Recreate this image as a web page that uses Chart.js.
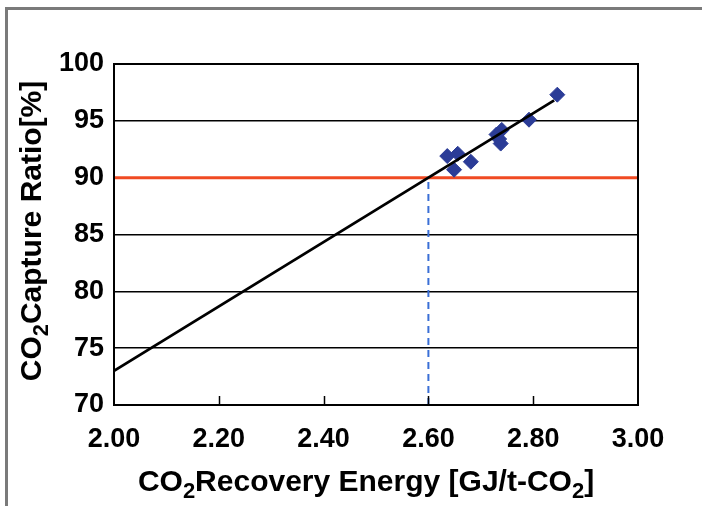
<!DOCTYPE html>
<html lang="en">
<head>
    <meta charset="UTF-8">
    <title>CO2 Capture Ratio vs Recovery Energy</title>
    <script src="https://cdn.jsdelivr.net/npm/chart.js"></script>
    <style>
        body {
            margin: 0;
            padding: 0;
            background-color: #ffffff;
        }

        #wrap {
            position: relative;
            width: 702px;
            height: 506px;
            overflow: hidden;
        }

        /* grey frame on top and left, cut off like in the scan */
        #frame {
            position: absolute;
            left: 5px;
            top: 7px;
            width: 720px;
            height: 520px;
            border-top: 3px solid #7a7a7a;
            border-left: 3px solid #7a7a7a;
        }

        canvas {
            position: absolute;
            left: 0;
            top: 0;
        }
    </style>
</head>
<body>
    <div id="wrap">
        <div id="frame"></div>
        <canvas id="captureChart"></canvas>
    </div>

    <script>
        // Measured points (recovery energy GJ/t-CO2, capture ratio %)
        const energyValues = [2.636, 2.656, 2.649, 2.681, 2.730, 2.740, 2.738, 2.735, 2.792, 2.846];
        const captureValues = [91.9, 92.1, 90.7, 91.4, 93.8, 94.2, 93.0, 93.4, 95.1, 97.3];

        // Fitted line end points
        const fitEnergy = [2.00, 2.84];
        const fitCapture = [73.0, 96.8];

        // Target ratio and the energy it needs
        const targetCapture = 90;
        const targetEnergy = 2.60;

        // Axis ranges / tick labels
        const xTicks = [2.00, 2.20, 2.40, 2.60, 2.80, 3.00];
        const yTicks = [70, 75, 80, 85, 90, 95, 100];

        // Axis titles, split so the "2" can be set as a subscript
        const xTitle = [['CO', false], ['2', true], ['Recovery Energy [GJ/t-CO', false], ['2', true], [']', false]];
        const yTitle = [['CO', false], ['2', true], ['Capture Ratio[%]', false]];

        const points = energyValues.map((e, i) => ({ x: e, y: captureValues[i] }));
        const fitLine = fitEnergy.map((e, i) => ({ x: e, y: fitCapture[i] }));

        const fontFamily = 'Liberation Sans, Arial, sans-serif';
        const tickFont = { family: fontFamily, size: 27, weight: 'bold' };
        const titleFont = 'bold 30px ' + fontFamily;
        const subFont = 'bold 22px ' + fontFamily;

        function titleWidth(ctx, parts) {
            let w = 0;
            parts.forEach(([t, sub]) => {
                ctx.font = sub ? subFont : titleFont;
                w += ctx.measureText(t).width;
            });
            return w;
        }

        function drawTitle(ctx, parts) {
            let x = 0;
            parts.forEach(([t, sub]) => {
                ctx.font = sub ? subFont : titleFont;
                ctx.fillText(t, x, sub ? 7 : 0);
                x += ctx.measureText(t).width;
            });
        }

        // Plot box, small inward ticks on the x axis, and the axis titles
        const frameBox = {
            id: 'frameBox',
            afterDatasetsDraw(chart) {
                const { ctx, chartArea: a, scales } = chart;
                ctx.save();
                ctx.strokeStyle = '#000';
                ctx.lineWidth = 2;
                ctx.strokeRect(a.left, a.top, a.right - a.left, a.bottom - a.top);
                ctx.lineWidth = 1.5;
                xTicks.slice(1, -1).forEach(v => {
                    const px = Math.round(scales.x.getPixelForValue(v)) + 0.5;
                    ctx.beginPath();
                    ctx.moveTo(px, a.bottom);
                    ctx.lineTo(px, a.bottom - 9);
                    ctx.stroke();
                });

                ctx.fillStyle = '#000';
                ctx.textBaseline = 'alphabetic';
                ctx.textAlign = 'left';

                // x title
                const xw = titleWidth(ctx, xTitle);
                ctx.save();
                ctx.translate((a.left + a.right) / 2 - 10 - xw / 2, 491);
                drawTitle(ctx, xTitle);
                ctx.restore();

                // y title, rotated
                const yw = titleWidth(ctx, yTitle);
                ctx.save();
                ctx.translate(41, 231 + yw / 2);
                ctx.rotate(-Math.PI / 2);
                drawTitle(ctx, yTitle);
                ctx.restore();

                ctx.restore();
            }
        };

        const ctx = document.getElementById('captureChart').getContext('2d');
        const captureChart = new Chart(ctx, {
            type: 'scatter',
            data: {
                datasets: [
                    {
                        label: 'Fit',
                        type: 'line',
                        data: fitLine,
                        borderColor: '#000000',
                        borderWidth: 2.8,
                        pointRadius: 0,
                        fill: false
                    },
                    {
                        label: 'Measured',
                        data: points,
                        pointStyle: 'rectRot',
                        pointRadius: 7.5,
                        backgroundColor: '#2b3c97',
                        borderColor: '#2b3c97',
                        borderWidth: 1
                    },
                    {
                        label: 'Target',
                        type: 'line',
                        data: [{ x: xTicks[0], y: targetCapture }, { x: xTicks[xTicks.length - 1], y: targetCapture }],
                        borderColor: '#f04a22',
                        borderWidth: 3,
                        pointRadius: 0,
                        fill: false
                    },
                    {
                        label: 'Energy at target',
                        type: 'line',
                        data: [{ x: targetEnergy, y: yTicks[0] }, { x: targetEnergy, y: targetCapture }],
                        borderColor: '#3a6fd6',
                        borderWidth: 2,
                        borderDash: [7, 5],
                        pointRadius: 0,
                        fill: false
                    }
                ]
            },
            options: {
                responsive: true,
                maintainAspectRatio: false,
                animation: false,
                layout: {
                    padding: { top: 64, right: 64, left: 0, bottom: 0 }
                },
                plugins: {
                    legend: { display: false },
                    tooltip: { enabled: false }
                },
                scales: {
                    x: {
                        type: 'linear',
                        min: 2.0,
                        max: 3.0,
                        afterBuildTicks: scale => { scale.ticks = xTicks.map(v => ({ value: v })); },
                        afterFit: scale => { scale.height = 101; },
                        ticks: {
                            color: '#000',
                            font: tickFont,
                            padding: 10,
                            maxRotation: 0,
                            callback: v => Number(v).toFixed(2)
                        },
                        grid: { display: false },
                        border: { display: false }
                    },
                    y: {
                        type: 'linear',
                        min: 70,
                        max: 100,
                        afterBuildTicks: scale => { scale.ticks = yTicks.map(v => ({ value: v })); },
                        afterFit: scale => { scale.width = 114; },
                        ticks: {
                            color: '#000',
                            font: tickFont,
                            padding: 10
                        },
                        grid: {
                            color: '#000',
                            lineWidth: 1.5,
                            drawTicks: false
                        },
                        border: { display: false }
                    }
                }
            },
            plugins: [frameBox]
        });
    </script>
</body>
</html>
